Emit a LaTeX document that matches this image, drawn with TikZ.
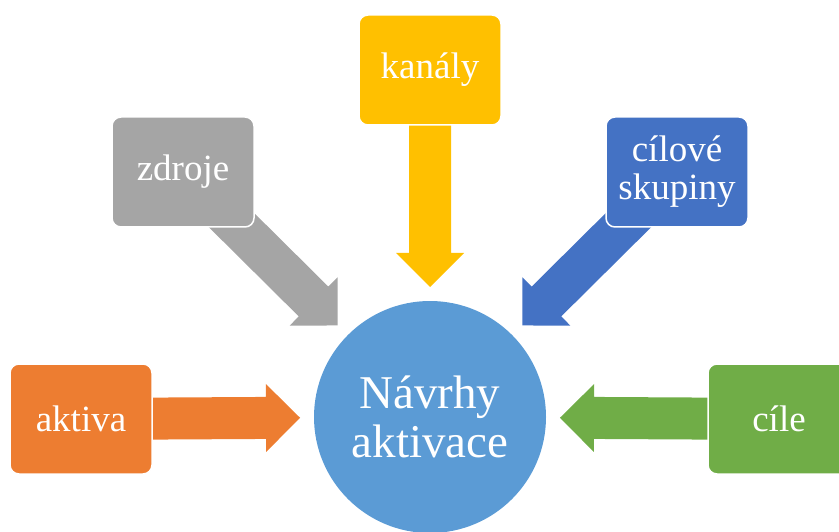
\documentclass[tikz,border=0pt]{standalone}
\usepackage{fontspec}
\setmainfont{Liberation Serif}
\usepackage{tikz}
\usetikzlibrary{calc,backgrounds}
\usetikzlibrary{positioning}

\definecolor{accorange}{HTML}{ED7D31}
\definecolor{accgray}{HTML}{A5A5A5}
\definecolor{accyellow}{HTML}{FFC000}
\definecolor{accblue}{HTML}{4472C4}
\definecolor{accgreen}{HTML}{70AD47}
\definecolor{hubblue}{HTML}{5B9BD5}

\begin{document}
\begin{tikzpicture}[x=1pt,y=-1pt,
	box/.style={rectangle, rounded corners=9pt, minimum width=142pt, minimum height=110pt,
		draw=white, line width=1.5pt, text=white, align=center, font=\fontsize{37}{38}\selectfont},
	hub/.style={circle, minimum size=232pt, fill=hubblue, text=white, align=center,
		font=\fontsize{47}{49}\selectfont}]
	\useasboundingbox (0,0) rectangle (839,532);
	% hub and the five inputs
	\node[hub] (navrhy) at (430,417) {Návrhy\\aktivace};
	\node[box, fill=accorange] (aktiva) at (81,419) {aktiva};
	\node[box, fill=accgray] (zdroje) at (183,172) {zdroje};
	\node[box, fill=accyellow] (kanaly) at (430,70) {kanály};
	\node[box, fill=accblue] (skupiny) at (677,172) {cílové\\skupiny};
	\node[box, fill=accgreen] (cile) at (779,419) {cíle};
	% block arrows, from each box towards the hub
	\begin{scope}[on background layer]
		\foreach \src/\col in {aktiva/accorange, zdroje/accgray, kanaly/accyellow, skupiny/accblue, cile/accgreen}{
			\coordinate (tip) at ($(navrhy.center)!130pt!(\src.center)$);
			\coordinate (base) at ($(tip)!34pt!(\src.center)$);
			\fill[\col] ($(\src.center)!21pt!-90:(base)$) -- ($(base)!21pt!90:(\src.center)$)
				-- ($(base)!34pt!90:(\src.center)$) -- (tip) -- ($(base)!34pt!-90:(\src.center)$)
				-- ($(base)!21pt!-90:(\src.center)$) -- ($(\src.center)!21pt!90:(base)$) -- cycle;
		}
	\end{scope}
\end{tikzpicture}
\end{document}
